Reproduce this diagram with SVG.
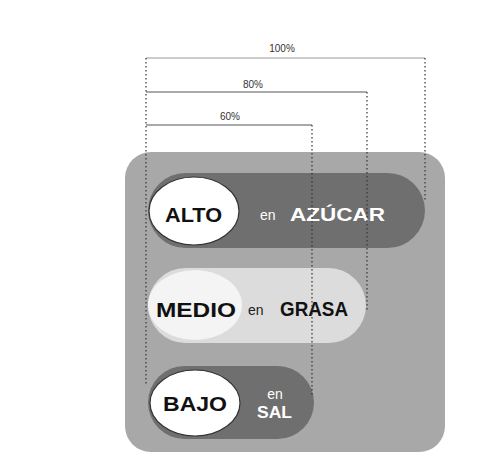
<svg xmlns="http://www.w3.org/2000/svg" width="496" height="457" viewBox="0 0 496 457">
<style>
.pct{font-family:"Liberation Sans",Arial,sans-serif;font-size:10px;fill:#333;text-anchor:middle}
.big{font-family:"Liberation Sans",Arial,sans-serif;font-weight:bold;font-size:21px;fill:#111}
.wb{font-family:"Liberation Sans",Arial,sans-serif;font-weight:bold;fill:#fff}
.en{font-family:"Liberation Sans",Arial,sans-serif;font-size:14px}
.dot{stroke:#333;stroke-width:1.2;stroke-dasharray:1.5 2.5;fill:none}
.bar{stroke:#555;stroke-width:1.2;fill:none}
.oval{fill:#fff;stroke:#333;stroke-width:1.2}
</style>
<rect width="496" height="457" fill="#fff"/>
<rect x="125" y="152" width="320" height="300" rx="26" fill="#a8a8a8"/>
<g id="alto">
<rect x="148" y="173" width="277" height="75" rx="37.5" fill="#6f6f6f"/>
<ellipse cx="194" cy="211" rx="45" ry="34" class="oval"/>
<text x="165" y="222" class="big" textLength="57" lengthAdjust="spacingAndGlyphs">ALTO</text>
<text x="260" y="220" class="en" fill="#fff">en</text>
<text x="290" y="221" class="wb" font-size="19" textLength="95" lengthAdjust="spacingAndGlyphs">AZÚCAR</text>
</g>
<g id="medio">
<rect x="148" y="268" width="218" height="75" rx="37.5" fill="#dcdcdc"/>
<ellipse cx="195" cy="305" rx="47" ry="35" fill="#f4f4f4"/>
<text x="156" y="317" class="big" textLength="80" lengthAdjust="spacingAndGlyphs">MEDIO</text>
<text x="248" y="315" class="en" fill="#222">en</text>
<text x="280" y="316" class="big" font-size="17" textLength="68" lengthAdjust="spacingAndGlyphs">GRASA</text>
</g>
<g id="bajo">
<rect x="148" y="366" width="166" height="73" rx="36.5" fill="#6f6f6f"/>
<ellipse cx="195" cy="403" rx="45" ry="33" class="oval"/>
<text x="163" y="411" class="big" textLength="64" lengthAdjust="spacingAndGlyphs">BAJO</text>
<text x="275" y="399" class="en" fill="#fff" text-anchor="middle" font-size="12">en</text>
<text x="257" y="418" class="wb" font-size="16" textLength="35" lengthAdjust="spacingAndGlyphs">SAL</text>
</g>
<g id="connectors">
<line x1="146" y1="58" x2="425" y2="58" stroke="#999" stroke-width="1"/>
<line x1="146" y1="92" x2="367" y2="92" class="bar"/>
<line x1="146" y1="125" x2="312" y2="125" class="bar"/>
<line x1="146" y1="58" x2="146" y2="385" class="dot"/>
<line x1="425" y1="58" x2="425" y2="200" class="dot"/>
<line x1="367" y1="92" x2="367" y2="312" class="dot"/>
<line x1="312" y1="125" x2="312" y2="395" class="dot"/>
<text x="282" y="52" class="pct">100%</text>
<text x="253" y="88" class="pct">80%</text>
<text x="230" y="120" class="pct">60%</text>
</g>
</svg>
